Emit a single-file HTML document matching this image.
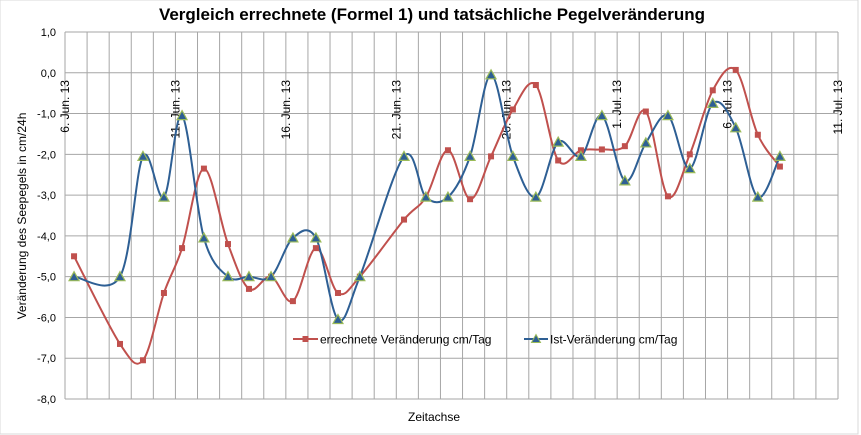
<!DOCTYPE html>
<html><head><meta charset="utf-8">
<style>
body{margin:0;background:#fff;}
svg{display:block;font-family:"Liberation Sans",sans-serif;}
</style></head>
<body>
<svg id="chart" width="861" height="435" viewBox="0 0 861 435">
<rect x="0" y="0" width="858" height="434" fill="#fff" stroke="#d9d9d9"/>
<text x="432" y="20" text-anchor="middle" font-size="17" font-weight="bold" fill="#000">Vergleich errechnete (Formel 1) und tatsächliche Pegelveränderung</text>
<g id="grid"></g>
<g id="yticks"></g>
<g id="xticks"></g>
<g id="series"></g>
<text transform="translate(26,216) rotate(-90)" text-anchor="middle" font-size="12" fill="#000">Veränderung  des Seepegels in cm/24h</text>
<text x="434" y="421" text-anchor="middle" font-size="12" fill="#000">Zeitachse</text>
<g>
<g>
<line x1="293" y1="339" x2="318" y2="339" stroke="#c0504d" stroke-width="2"/>
<rect x="302.5" y="336" width="6" height="6" fill="#c0504d"/>
<text x="320" y="343.5" font-size="12" fill="#000">errechnete Veränderung cm/Tag</text>
</g>
<g>
<line x1="524" y1="339" x2="548" y2="339" stroke="#2e5f94" stroke-width="2"/>
<polygon points="536,334.5 540.5,342.5 531.5,342.5" fill="#2e5f94" stroke="#9bbb59" stroke-width="1"/>
<text x="550" y="343.5" font-size="12" fill="#000">Ist-Veränderung cm/Tag</text>
</g>
</g>
</svg>
<script>
const xDays=[0.41,2.49,3.53,4.48,5.30,6.29,7.38,8.33,9.33,10.32,11.36,12.36,13.35,15.35,16.34,17.34,18.34,19.29,20.28,21.32,22.33,23.36,24.31,25.35,26.30,27.30,28.29,29.33,30.37,31.37,32.37];
const errechnet=[-4.5,-6.65,-7.05,-5.4,-4.3,-2.35,-4.2,-5.3,-5.0,-5.6,-4.3,-5.4,-5.0,-3.6,-3.05,-1.9,-3.1,-2.05,-0.9,-0.3,-2.15,-1.9,-1.88,-1.8,-0.95,-3.03,-2.0,-0.43,0.07,-1.52,-2.3];
const ist=[-5.0,-5.0,-2.05,-3.05,-1.05,-4.05,-5.0,-5.0,-5.0,-4.05,-4.05,-6.05,-5.0,-2.05,-3.05,-3.05,-2.05,-0.05,-2.05,-3.05,-1.7,-2.05,-1.05,-2.65,-1.72,-1.05,-2.35,-0.75,-1.35,-3.05,-2.05];
const yTicks=[1,0,-1,-2,-3,-4,-5,-6,-7,-8];
const dateLabels=["6. Jun. 13","11. Jun. 13","16. Jun. 13","21. Jun. 13","26. Jun. 13","1. Jul. 13","6. Jul. 13","11. Jul. 13"];
const NS="http://www.w3.org/2000/svg";
const L=65,R=838,T=32,B=399,DAYS=35;
function xs(d){return L+d*(R-L)/DAYS;}
function ys(v){return T+(1-v)*(B-T)/9;}
function mk(tag,attrs,parent){const e=document.createElementNS(NS,tag);for(const k in attrs)e.setAttribute(k,attrs[k]);parent.appendChild(e);return e;}
const grid=document.getElementById('grid');
for(let i=0;i<=DAYS;i++){const x=xs(i);const l=mk('line',{x1:x,x2:x,y1:T,y2:B,stroke:'#a6a6a6','stroke-width':1},grid);

}
const yt=document.getElementById('yticks');
yTicks.forEach(v=>{const y=ys(v);const l=mk('line',{x1:L,x2:R,y1:y,y2:y,stroke:'#a6a6a6','stroke-width':1},grid);


const t=mk('text',{x:56,y:y+4,'text-anchor':'end','font-size':11,fill:'#000'},yt);
t.textContent=v.toFixed(1).replace('.',',');

});
const xt=document.getElementById('xticks');
dateLabels.forEach((s,i)=>{const x=xs(i*5)+4;const t=mk('text',{transform:'translate('+x+',80) rotate(-90)','text-anchor':'end','font-size':12,fill:'#000'},xt);
t.textContent=s;

});
function path(vals){const p=xDays.map((d,i)=>[xs(d),ys(vals[i])]);let s='M'+p[0][0]+','+p[0][1];
for(let i=0;i<p.length-1;i++){const p0=p[i-1]||p[i],p1=p[i],p2=p[i+1],p3=p[i+2]||p[i+1];
const c1=[p1[0]+(p2[0]-p0[0])/6,p1[1]+(p2[1]-p0[1])/6],c2=[p2[0]-(p3[0]-p1[0])/6,p2[1]-(p3[1]-p1[1])/6];
s+=' C'+c1+' '+c2+' '+p2;}return s;}
const sg=document.getElementById('series');
const pr=mk('path',{d:path(errechnet),fill:'none',stroke:'#c0504d','stroke-width':2},sg);


const pb=mk('path',{d:path(ist),fill:'none',stroke:'#2e5f94','stroke-width':2},sg);


xDays.forEach((d,i)=>{const x=xs(d),y=ys(errechnet[i]);const r=mk('rect',{x:x-3,y:y-3,width:6,height:6,fill:'#c0504d'},sg);

});
xDays.forEach((d,i)=>{const x=xs(d),y=ys(ist[i]);const t=mk('polygon',{points:(x)+','+(y-5)+' '+(x+5)+','+(y+4)+' '+(x-5)+','+(y+4),fill:'#2e5f94',stroke:'#9bbb59','stroke-width':1.2},sg);

});
</script>
</body></html>
